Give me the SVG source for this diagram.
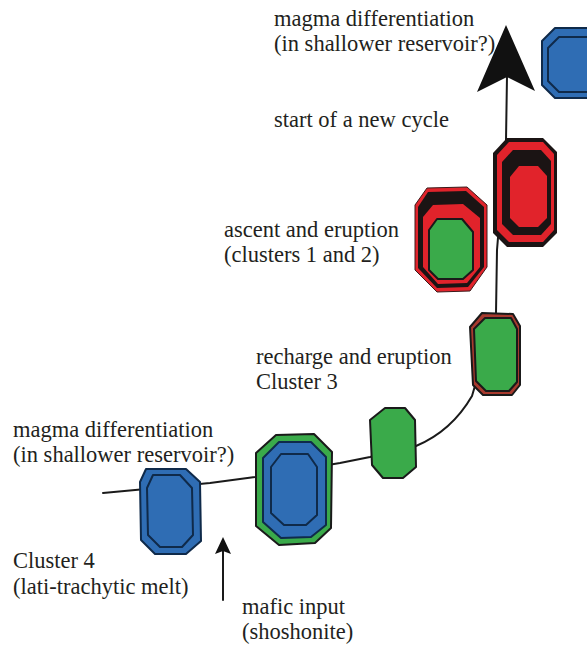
<svg xmlns="http://www.w3.org/2000/svg" width="587" height="646" viewBox="0 0 587 646">
  <defs>
    <style>
      .lbl { font-family: "Liberation Serif", "Times New Roman", serif; font-size: 22.5px; fill: #231f20; }
      .path { fill: none; stroke: #1a1a1a; stroke-width: 2; stroke-linecap: round; stroke-linejoin: round; }
      .blue { fill: #2f6db4; stroke: #0f2a4a; stroke-width: 2; stroke-linejoin: round; }
      .green { fill: #3aaa4a; stroke: #1a1a1a; stroke-width: 2; stroke-linejoin: round; }
      .red { fill: #e1232b; }
      .blk { fill: #1b1414; }
    </style>
  </defs>
  <rect width="587" height="646" fill="#ffffff"/>

  <!-- evolution path and arrows -->
  <g id="connectors">
    <path class="path" d="M103,493 L210,483 L255,477 L340,463 L370,457 L416,446 C440,436 458,420 472,396 L484,355 L496,313 L497,250 L506,140 L507,76"/>
    <polygon points="506,25 535,91 507,77 477,92" fill="#111111"/>
    <line class="path" x1="223" y1="600" x2="223" y2="550"/>
    <polygon points="223,537 231,554 223,551 215,554" fill="#111111"/>
  </g>

  <!-- Cluster 4 melt -->
  <g id="node-cluster4">
    <polygon class="blue" points="146,469 186,469 200,482 201,541 186,554 155,554 141,540 140,482"/>
    <polygon class="blue" points="153,475 180,475 192,488 193,535 182,547 160,547 148,535 147,488"/>
  </g>

  <!-- mixed melt after mafic input -->
  <g id="node-mixed">
    <polygon class="green" points="276,435 314,434 332,452 331,528 315,543 279,545 256,526 256,453"/>
    <polygon class="blue" points="279,442 311,442 326,457 326,525 311,537 281,538 263,522 263,458"/>
    <polygon class="blue" points="281,454 308,454 317,467 317,515 306,525 284,525 271,513 271,467"/>
  </g>

  <!-- Cluster 3 recharge -->
  <g id="node-cluster3a">
    <polygon class="green" points="385,408 405,408 415,420 416,467 403,478 383,478 372,465 370,420"/>
  </g>
  <g id="node-cluster3b">
    <polygon points="482,313 513,314 520,326 520,385 512,395 483,395 473,385 470,327" fill="#a83a2e" stroke="#1a1a1a" stroke-width="2" stroke-linejoin="round"/>
    <polygon class="green" stroke-width="1.5" points="485,318 511,318 517,329 517,382 509,391 486,391 476,381 474,329"/>
  </g>

  <!-- Clusters 1 and 2 -->
  <g id="node-clusters12">
    <polygon class="red" stroke="#3a1a1a" stroke-width="1" points="427,188 467,187 487,205 487,267 470,291 437,292 415,270 415,205"/>
    <polygon class="blk" points="428,192 466,191 484,207 484,267 468,287 437,288 418,268 418,207"/>
    <polygon class="red" points="433,205 463,204 480,218 480,267 467,283 438,284 423,267 423,217"/>
    <polygon class="green" stroke-width="2.5" points="437,219 462,219 473,232 473,270 463,279 438,279 429,270 429,230"/>
  </g>

  <!-- new cycle -->
  <g id="node-newcycle">
    <polygon class="blk" points="507,138 543,138 557,152 557,233 543,247 507,247 493,233 493,153"/>
    <polygon class="red" points="509,142 543,142 554,154 554,230 543,242 509,242 497,230 497,155"/>
    <polygon class="blk" points="513,150 541,150 551,161 551,224 541,235 513,235 502,224 502,162"/>
    <polygon class="red" points="519,166 538,166 547,176 547,218 538,227 519,227 510,218 510,177"/>
  </g>

  <!-- differentiated melt, next cycle -->
  <g id="node-next">
    <polygon class="blue" points="555,28 600,28 600,98 555,98 542,85 542,41"/>
    <polygon class="blue" points="559,37 600,37 600,92 559,92 548,81 548,48"/>
  </g>

  <!-- labels -->
  <g id="labels">
    <text class="lbl" x="274" y="26">magma differentiation</text>
    <text class="lbl" x="274" y="51">(in shallower reservoir?)</text>
    <text class="lbl" x="274" y="127">start of a new cycle</text>
    <text class="lbl" x="224" y="237">ascent and eruption</text>
    <text class="lbl" x="224" y="262">(clusters 1 and 2)</text>
    <text class="lbl" x="256" y="364">recharge and eruption</text>
    <text class="lbl" x="256" y="389">Cluster 3</text>
    <text class="lbl" x="13" y="437">magma differentiation</text>
    <text class="lbl" x="13" y="462">(in shallower reservoir?)</text>
    <text class="lbl" x="13" y="568">Cluster 4</text>
    <text class="lbl" x="13" y="594">(lati-trachytic melt)</text>
    <text class="lbl" x="242" y="614">mafic input</text>
    <text class="lbl" x="242" y="639">(shoshonite)</text>
  </g>
</svg>
